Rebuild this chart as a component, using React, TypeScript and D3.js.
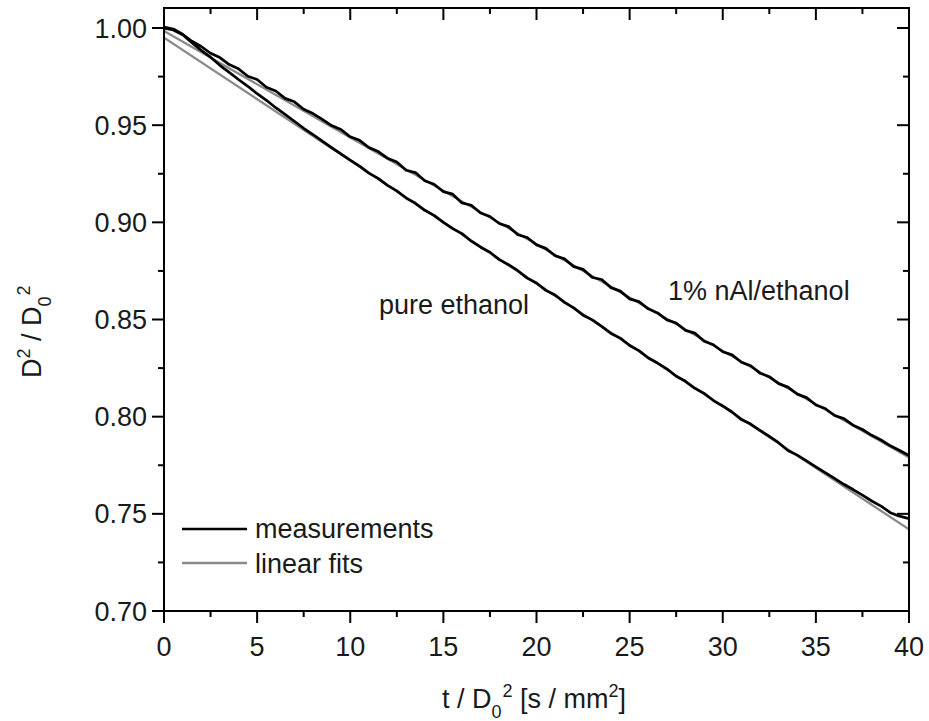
import React from 'react';
import * as d3 from 'd3';

const timeGrid = [
  0, 0.5, 1, 1.5, 2, 2.5, 3, 3.5, 4, 4.5, 5, 5.5, 6, 6.5, 7, 7.5, 8, 8.5, 9, 9.5,
  10, 10.5, 11, 11.5, 12, 12.5, 13, 13.5, 14, 14.5, 15, 15.5, 16, 16.5, 17, 17.5, 18, 18.5, 19, 19.5,
  20, 20.5, 21, 21.5, 22, 22.5, 23, 23.5, 24, 24.5, 25, 25.5, 26, 26.5, 27, 27.5, 28, 28.5, 29, 29.5,
  30, 30.5, 31, 31.5, 32, 32.5, 33, 33.5, 34, 34.5, 35, 35.5, 36, 36.5, 37, 37.5, 38, 38.5, 39, 39.5, 40,
];

const pureEthanol = [
  1.0000, 0.9990, 0.9965, 0.9925, 0.9885, 0.9850, 0.9808, 0.9772, 0.9735, 0.9700,
  0.9662, 0.9628, 0.9590, 0.9556, 0.9520, 0.9484, 0.9452, 0.9418, 0.9385, 0.9352,
  0.9320, 0.9289, 0.9253, 0.9226, 0.9190, 0.9162, 0.9125, 0.9098, 0.9062, 0.9036,
  0.9000, 0.8968, 0.8942, 0.8903, 0.8872, 0.8846, 0.8808, 0.8782, 0.8751, 0.8713,
  0.8688, 0.8650, 0.8626, 0.8588, 0.8560, 0.8522, 0.8498, 0.8465, 0.8428, 0.8404,
  0.8366, 0.8340, 0.8302, 0.8276, 0.8246, 0.8208, 0.8182, 0.8146, 0.8120, 0.8083,
  0.8055, 0.8024, 0.7985, 0.7962, 0.7930, 0.7898, 0.7866, 0.7826, 0.7802, 0.7772,
  0.7742, 0.7712, 0.7682, 0.7652, 0.7625, 0.7596, 0.7566, 0.7540, 0.7506, 0.7488,
  0.7475,
];

const nAlEthanol = [
  1.0005, 0.9995, 0.9968, 0.9932, 0.9905, 0.9870, 0.9848, 0.9812, 0.9790, 0.9752,
  0.9735, 0.9695, 0.9676, 0.9638, 0.9620, 0.9582, 0.9560, 0.9530, 0.9498, 0.9478,
  0.9440, 0.9422, 0.9385, 0.9364, 0.9330, 0.9310, 0.9268, 0.9256, 0.9214, 0.9196,
  0.9158, 0.9145, 0.9100, 0.9088, 0.9048, 0.9030, 0.8994, 0.8978, 0.8936, 0.8922,
  0.8884, 0.8866, 0.8828, 0.8812, 0.8772, 0.8758, 0.8716, 0.8706, 0.8664, 0.8646,
  0.8606, 0.8592, 0.8555, 0.8534, 0.8498, 0.8482, 0.8444, 0.8430, 0.8388, 0.8370,
  0.8334, 0.8318, 0.8280, 0.8262, 0.8224, 0.8206, 0.8170, 0.8152, 0.8116, 0.8098,
  0.8060, 0.8042, 0.8006, 0.7990, 0.7956, 0.7934, 0.7904, 0.7880, 0.7850, 0.7826,
  0.7800,
];

const fitTimes = [0, 40];
const pureEthanolFit = [0.995, 0.742];
const nAlEthanolFit = [0.9985, 0.779];

const xMajorTicks = [0, 5, 10, 15, 20, 25, 30, 35, 40];
const xMinorTicks = [2.5, 7.5, 12.5, 17.5, 22.5, 27.5, 32.5, 37.5];
const yMajorTicks = [0.7, 0.75, 0.8, 0.85, 0.9, 0.95, 1.0];
const yMinorTicks = [0.725, 0.775, 0.825, 0.875, 0.925, 0.975];

const legendLabels = ['measurements', 'linear fits'];
const seriesLabels = ['pure ethanol', '1% nAl/ethanol'];

const W = 929;
const H = 721;
const L = 164;
const R = 909;
const T = 8;
const B = 611;
const FONT = "'Liberation Sans', Arial, Helvetica, sans-serif";
const FS = 27;
const SFS = 18;
const MEAS = '#000000';
const FIT = '#8a8a8a';
const TXT = '#1a1a1a';

export default function App() {
  const x = d3.scaleLinear().domain([0, 40]).range([L, R]);
  const y = d3.scaleLinear().domain([0.7, 1.0103]).range([B, T]);

  const line = d3
    .line<[number, number]>()
    .x((d) => x(d[0]))
    .y((d) => y(d[1]));

  const meas1 = line(timeGrid.map((t, i) => [t, pureEthanol[i]] as [number, number])) || '';
  const meas2 = line(timeGrid.map((t, i) => [t, nAlEthanol[i]] as [number, number])) || '';
  const fit1 = line(fitTimes.map((t, i) => [t, pureEthanolFit[i]] as [number, number])) || '';
  const fit2 = line(fitTimes.map((t, i) => [t, nAlEthanolFit[i]] as [number, number])) || '';

  const major = 12;
  const minor = 6;

  return (
    <svg
      width={W}
      height={H}
      style={{ position: 'absolute', left: 0, top: 0, background: '#fff' }}
      fontFamily={FONT}
    >
      <rect x={0} y={0} width={W} height={H} fill="#fff" />
      <defs>
        <clipPath id="plotclip">
          <rect x={L} y={T} width={R - L} height={B - T} />
        </clipPath>
      </defs>

      <g clipPath="url(#plotclip)" fill="none" strokeLinejoin="round" strokeLinecap="round">
        <path d={fit1} stroke={FIT} strokeWidth={2.3} />
        <path d={fit2} stroke={FIT} strokeWidth={2.3} />
        <path d={meas1} stroke={MEAS} strokeWidth={2.7} />
        <path d={meas2} stroke={MEAS} strokeWidth={2.7} />
      </g>

      {/* frame */}
      <rect x={L} y={T} width={R - L} height={B - T} fill="none" stroke="#000" strokeWidth={2} />

      {/* ticks */}
      <g stroke="#000" strokeWidth={2}>
        {xMajorTicks.map((t) => (
          <g key={'xM' + t}>
            <line x1={x(t)} x2={x(t)} y1={B} y2={B + major} />
            <line x1={x(t)} x2={x(t)} y1={T} y2={T + major} />
          </g>
        ))}
        {xMinorTicks.map((t) => (
          <g key={'xm' + t}>
            <line x1={x(t)} x2={x(t)} y1={B} y2={B + minor} />
            <line x1={x(t)} x2={x(t)} y1={T} y2={T + minor} />
          </g>
        ))}
        {yMajorTicks.map((v) => (
          <g key={'yM' + v}>
            <line x1={L - major} x2={L} y1={y(v)} y2={y(v)} />
            <line x1={R - major} x2={R} y1={y(v)} y2={y(v)} />
          </g>
        ))}
        {yMinorTicks.map((v) => (
          <g key={'ym' + v}>
            <line x1={L - minor} x2={L} y1={y(v)} y2={y(v)} />
            <line x1={R - minor} x2={R} y1={y(v)} y2={y(v)} />
          </g>
        ))}
      </g>

      {/* tick labels */}
      <g fontSize={FS} fill={TXT}>
        {xMajorTicks.map((t) => (
          <text key={'xl' + t} x={x(t)} y={B + 45} textAnchor="middle">
            {String(t)}
          </text>
        ))}
        {yMajorTicks.map((v) => (
          <text key={'yl' + v} x={L - 17} y={y(v) + 9.5} textAnchor="end">
            {v.toFixed(2)}
          </text>
        ))}
      </g>

      {/* axis titles */}
      <text x={442} y={708} fontSize={FS} fill={TXT}>
        <tspan>t / D</tspan>
        <tspan fontSize={SFS} dy={10}>0</tspan>
        <tspan fontSize={SFS} dx={1} dy={-21}>2</tspan>
        <tspan dy={11}>{' [s / mm'}</tspan>
        <tspan fontSize={SFS} dy={-11}>2</tspan>
        <tspan dy={11}>]</tspan>
      </text>

      <text transform={`translate(41, 378) rotate(-90)`} fontSize={FS} fill={TXT}>
        <tspan>D</tspan>
        <tspan fontSize={SFS} dy={-11}>2</tspan>
        <tspan dy={11}>{' / D'}</tspan>
        <tspan fontSize={SFS} dy={10}>0</tspan>
        <tspan fontSize={SFS} dx={1} dy={-21}>2</tspan>
      </text>

      {/* legend */}
      <line x1={182} x2={247} y1={529} y2={529} stroke={MEAS} strokeWidth={2.7} />
      <line x1={182} x2={247} y1={563} y2={563} stroke={FIT} strokeWidth={2.3} />
      <text x={255} y={538} fontSize={FS} fill={TXT}>{legendLabels[0]}</text>
      <text x={255} y={573} fontSize={FS} fill={TXT}>{legendLabels[1]}</text>

      {/* annotations */}
      <text x={379} y={314} fontSize={FS} fill={TXT}>{seriesLabels[0]}</text>
      <text x={668} y={300} fontSize={FS} fill={TXT}>{seriesLabels[1]}</text>
    </svg>
  );
}
